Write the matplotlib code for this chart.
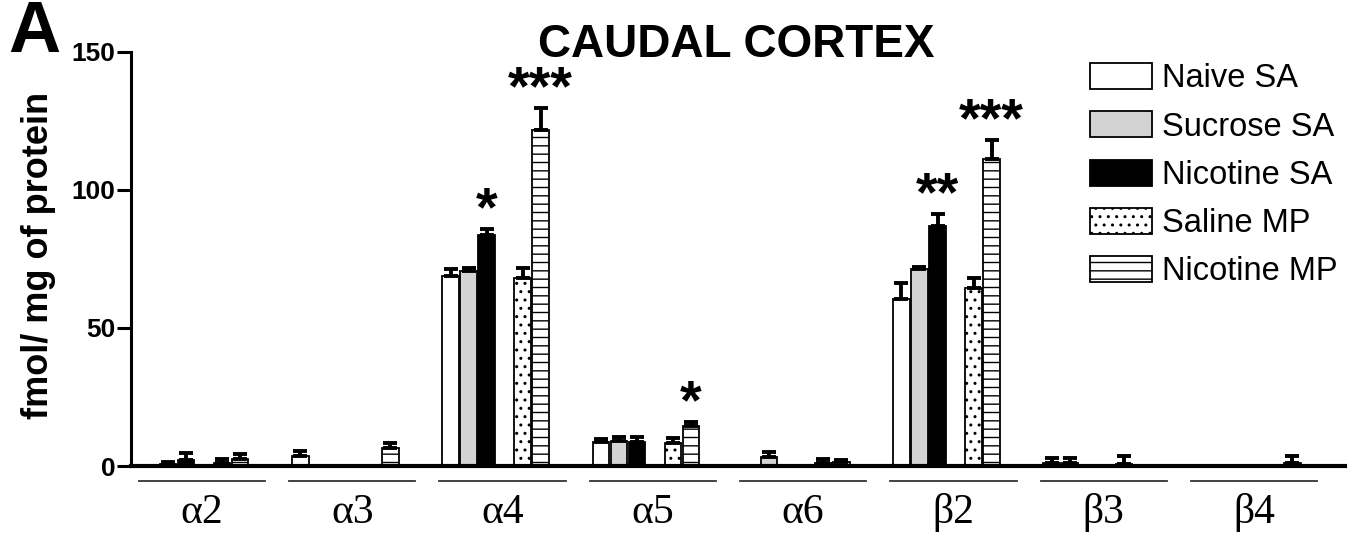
import numpy as np
import matplotlib
matplotlib.use('Agg')
import matplotlib.pyplot as plt
from matplotlib.patches import Patch
import matplotlib.transforms as mtransforms

plt.rcParams['font.family'] = ['Liberation Sans', 'DejaVu Sans']
plt.rcParams['hatch.linewidth'] = 1.0

# receptor subunits
groups = ['\u03b12', '\u03b13', '\u03b14', '\u03b15', '\u03b16', '\u03b22', '\u03b23', '\u03b24']

# fmol / mg protein, mean and SEM per treatment group
naive_sa = [0, 3.6, 68.8, 8.7, 0, 60.5, 1.0, 0]
naive_sa_err = [0, 1.8, 2.6, 1.0, 0, 5.7, 1.9, 0]
sucrose_sa = [0.8, 0.3, 70.7, 9.1, 3.1, 71.5, 1.1, 0]
sucrose_sa_err = [0.7, 0, 1.1, 1.4, 2.1, 0.7, 1.9, 0]
nicotine_sa = [2.2, 0, 83.7, 8.7, 0, 87.0, 0, 0]
nicotine_sa_err = [2.6, 0, 2.2, 1.7, 0, 4.2, 0, 0]
saline_mp = [1.2, 0.3, 68.2, 8.2, 1.0, 64.5, 0.8, 0]
saline_mp_err = [1.3, 0, 3.6, 1.9, 1.4, 3.6, 2.8, 0]
nicotine_mp = [2.6, 6.4, 121.7, 14.5, 1.3, 111.2, 0, 1.1]
nicotine_mp_err = [1.6, 1.8, 8.1, 1.3, 1.0, 6.9, 0, 2.5]

series_names = ['Naive SA', 'Sucrose SA', 'Nicotine SA', 'Saline MP', 'Nicotine MP']
# significance marks: (group index, series index, text)
stars = [(2, 2, '*'), (2, 4, '***'), (3, 4, '*'), (5, 2, '**'), (5, 4, '***')]

means = [naive_sa, sucrose_sa, nicotine_sa, saline_mp, nicotine_mp]
errs = [naive_sa_err, sucrose_sa_err, nicotine_sa_err, saline_mp_err, nicotine_mp_err]
faces = ['white', '#d3d3d3', 'black', 'white', 'white']
hatches = [None, None, None, '..', '--']
offsets = [-0.346, -0.226, -0.106, 0.134, 0.254]
width = 0.11

fig = plt.figure(figsize=(13.51, 5.40), dpi=100)
ax = fig.add_axes([131/1351, 1-466/540, (1345-131)/1351, 414/540])

x = np.arange(len(groups))
for k in range(5):
    xs = x + offsets[k]
    ax.bar(xs, means[k], width=width, color=faces[k], edgecolor='black',
           linewidth=1.3, hatch=hatches[k], zorder=2)
    m = np.array(means[k])
    e = np.array(errs[k])
    keep = e > 0
    ax.errorbar(xs[keep], m[keep], yerr=[np.zeros(keep.sum()), e[keep]],
                fmt='none', ecolor='black', elinewidth=2.8, capsize=5,
                capthick=2.8, zorder=3)

for g, s, txt in stars:
    ax.text(x[g] + offsets[s], means[s][g] + errs[s][g] + 6.5, txt,
            ha='center', va='center', fontsize=40, fontweight='bold')

ax.set_xlim(-0.472, 7.605)
ax.set_ylim(0, 150)
ax.set_yticks([0, 50, 100, 150])
ax.set_xticks([])
ax.spines['top'].set_visible(False)
ax.spines['right'].set_visible(False)
ax.spines['left'].set_linewidth(2.2)
ax.spines['bottom'].set_linewidth(3.0)
ax.tick_params(axis='y', direction='out', length=10, width=2.2, labelsize=19, pad=1)
for lab in ax.get_yticklabels():
    lab.set_fontweight('bold')

fig.text(39/1351, 1-255/540, 'fmol/ mg of protein', rotation=90, ha='center',
         va='center', fontsize=26, fontweight='bold')

# group labels with underline
trans = mtransforms.blended_transform_factory(ax.transData, ax.transAxes)
for i, name in enumerate(groups):
    ax.plot([i - 0.42, i + 0.42], [-0.036, -0.036], color='#333333', lw=1.3,
            transform=trans, clip_on=False)
    ax.text(i, -0.112, name, transform=trans, ha='center', va='center',
            fontsize=30, family=['Liberation Serif', 'DejaVu Serif'])

fig.text(736/1351, 1-45/540, 'CAUDAL CORTEX', ha='center', va='center',
         fontsize=33, fontweight='bold')
fig.text(8/1351, 1-33/540, 'A', ha='left', va='center', fontsize=52, fontweight='bold')

handles = [Patch(facecolor=faces[k], edgecolor='black', hatch=hatches[k], linewidth=1.3)
           for k in range(5)]
ax.legend(handles, series_names, loc='upper left', bbox_to_anchor=(1090/1351, 1-63/540),
          bbox_transform=fig.transFigure, frameon=False, fontsize=23.5,
          handlelength=1.9, handleheight=0.85, handletextpad=0.3, labelspacing=0.52,
          borderaxespad=0, borderpad=0)

fig.savefig('out.png', dpi=100)
